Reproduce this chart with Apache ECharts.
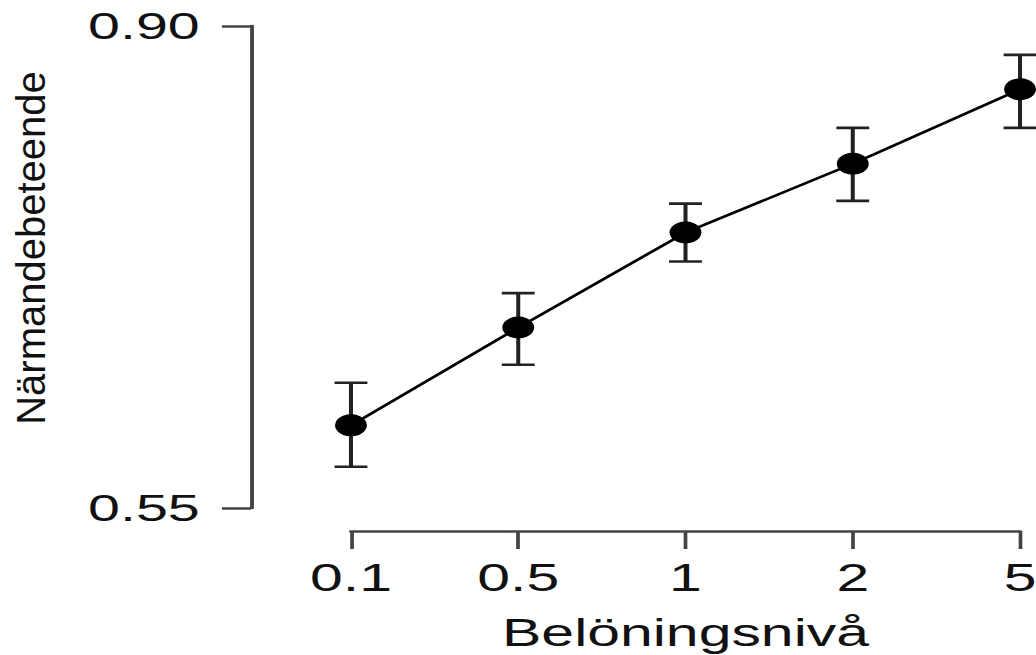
<!DOCTYPE html>
<html>
<head>
<meta charset="utf-8">
<script src="https://cdn.jsdelivr.net/npm/echarts@6/dist/echarts.min.js"></script>
<style>
html,body{margin:0;padding:0;background:#fff;overflow:hidden;width:1036px;height:655px;}
#c{width:668px;height:655px;transform:scaleX(1.5509);transform-origin:0 0;}
</style>
</head>
<body>
<div id="c"></div>
<script>
var categories = ['0.1', '0.5', '1', '2', '5'];
var means = [0.610, 0.681, 0.750, 0.800, 0.854];
var upper = [0.641, 0.706, 0.771, 0.826, 0.879];
var lower = [0.580, 0.654, 0.729, 0.773, 0.826];
var yTicks = [0.55, 0.90];
var xTitle = 'Belöningsnivå';
var yTitle = 'Närmandebeteende';

var SX = 1.5509; // horizontal stretch of the reference picture
var errData = categories.map(function (c, i) { return [i, lower[i], upper[i]]; });
var chart = echarts.init(document.getElementById('c'), null, { renderer: 'svg' });
var font = 'Liberation Sans, Arial, Helvetica, sans-serif';
chart.setOption({
  animation: false,
  backgroundColor: '#fff',
  grid: { left: 226.3, right: 10.3, top: 26, bottom: 147, outerBoundsMode: 'none', containLabel: false },
  xAxis: {
    type: 'category', data: categories, boundaryGap: false, offset: 23,
    axisLine: { lineStyle: { color: '#444', width: 2.5 } },
    axisTick: { length: 18, lineStyle: { color: '#444', width: 2.4 } },
    axisLabel: { fontFamily: font, fontSize: 38, color: '#111', margin: 28 },
    splitLine: { show: false },
    name: xTitle, nameLocation: 'middle', nameGap: 83,
    nameTextStyle: { fontFamily: font, fontSize: 38, color: '#111' }
  },
  yAxis: {
    type: 'value', min: 0.55, max: 0.90, offset: 64.5,
    axisLine: { show: true, lineStyle: { color: '#444', width: 2.5 } },
    axisTick: { show: true, length: 18.7, customValues: yTicks, lineStyle: { color: '#444', width: 2.5 } },
    axisLabel: { fontFamily: font, fontSize: 37, color: '#111', margin: 33, customValues: yTicks,
      formatter: function (v) { return v.toFixed(2); } },
    splitLine: { show: false }
  },
  graphic: [{
    type: 'text',
    x: 20, y: 248,
    rotation: Math.PI / 2,
    scaleY: 1 / SX,
    style: { text: yTitle, fontFamily: font, fontSize: 40, fill: '#111', align: 'center', verticalAlign: 'middle' }
  }],
  series: [
    {
      type: 'custom',
      data: errData,
      z: 1,
      renderItem: function (params, api) {
        var x = api.value(0);
        var lo = api.coord([x, api.value(1)]);
        var hi = api.coord([x, api.value(2)]);
        var hw = 10.6;
        var st = { stroke: '#222', lineWidth: 2.6 };
        return {
          type: 'group',
          children: [
            { type: 'line', shape: { x1: lo[0], y1: lo[1], x2: hi[0], y2: hi[1] }, style: st },
            { type: 'line', shape: { x1: lo[0] - hw, y1: lo[1], x2: lo[0] + hw, y2: lo[1] }, style: st },
            { type: 'line', shape: { x1: hi[0] - hw, y1: hi[1], x2: hi[0] + hw, y2: hi[1] }, style: st }
          ]
        };
      }
    },
    {
      type: 'line',
      data: means,
      z: 2,
      symbol: 'circle',
      symbolSize: [20.6, 22],
      itemStyle: { color: '#000' },
      lineStyle: { color: '#000', width: 2.4 }
    }
  ]
});
</script>
</body>
</html>
